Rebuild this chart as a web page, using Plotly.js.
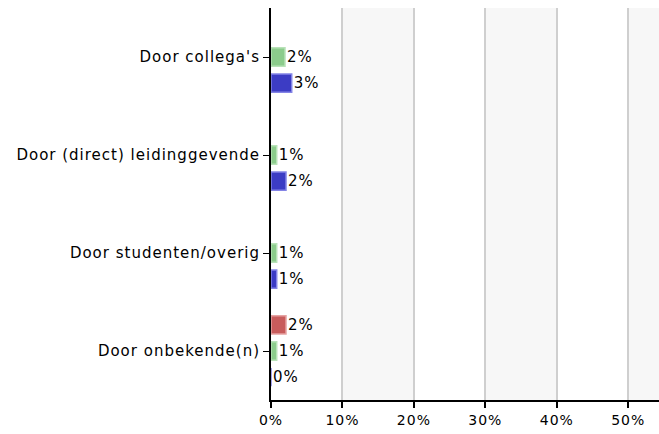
<!DOCTYPE html>
<html><head><meta charset="utf-8">
<script src="https://cdn.plot.ly/plotly-3.0.1.min.js"></script>
<style>body{margin:0;background:#fff}#c{width:659px;height:434px}#c text{letter-spacing:1px}</style>
</head><body><div id="c"></div>
<script>
var categories = ["Door collega's", "Door (direct) leidinggevende", "Door studenten/overig", "Door onbekende(n)"];
var redValues = [null, null, null, 2.1];
var redLabels = ["", "", "", "2%"];
var greenValues = [1.96, 0.8, 0.8, 0.8];
var greenLabels = ["2%", "1%", "1%", "1%"];
var blueValues = [2.9, 2.1, 0.8, 0];
var blueLabels = ["3%", "2%", "1%", "0%"];
var xTicks = [0, 10, 20, 30, 40, 50];
var xTickLabels = ["0%", "10%", "20%", "30%", "40%", "50%"];
var xMax = 54.3;

function trace(vals, labels, fill, edge) {
  return {
    type: 'bar', orientation: 'h', y: categories, x: vals,
    text: labels, textposition: 'outside', cliponaxis: false,
    textfont: {family: 'DejaVu Sans', size: 15, color: '#000'},
    marker: {color: fill, line: {color: edge, width: 1.5}},
    hoverinfo: 'none', showlegend: false
  };
}
var data = [
  trace(redValues, redLabels, '#c85c5c', '#e6a3a3'),
  trace(greenValues, greenLabels, '#8ccc8c', '#b8e2b8'),
  trace(blueValues, blueLabels, '#3c3cc4', '#8484e6')
];
var shapes = [];
for (var i = 1; i < xTicks.length; i += 2) {
  shapes.push({type: 'rect', xref: 'x', yref: 'paper', x0: xTicks[i],
    x1: (i + 1 < xTicks.length ? xTicks[i + 1] : xMax), y0: 0, y1: 1,
    fillcolor: '#f7f7f7', line: {width: 0}, layer: 'below'});
}
var layout = {
  width: 659, height: 434,
  margin: {l: 271, r: 0, t: 8, b: 34},
  paper_bgcolor: '#fff', plot_bgcolor: 'rgba(0,0,0,0)',
  barmode: 'group', bargap: 0.2, bargroupgap: 0.3,
  font: {family: 'DejaVu Sans', size: 14, color: '#000'},
  shapes: shapes,
  xaxis: {range: [0, xMax], tickmode: 'array', tickvals: xTicks, ticktext: xTickLabels,
    showgrid: true, gridcolor: '#cfcfcf', gridwidth: 2, zeroline: false,
    showline: true, linecolor: '#000', linewidth: 2,
    ticks: 'outside', ticklen: 6, tickcolor: '#000', tickwidth: 2, fixedrange: true},
  yaxis: {autorange: 'reversed', type: 'category',
    showline: true, linecolor: '#000', linewidth: 2,
    ticks: 'outside', ticklen: 6, tickcolor: '#000', tickwidth: 1, fixedrange: true,
    tickfont: {size: 15}}
};
Plotly.newPlot('c', data, layout, {displayModeBar: false, staticPlot: true});
</script></body></html>
